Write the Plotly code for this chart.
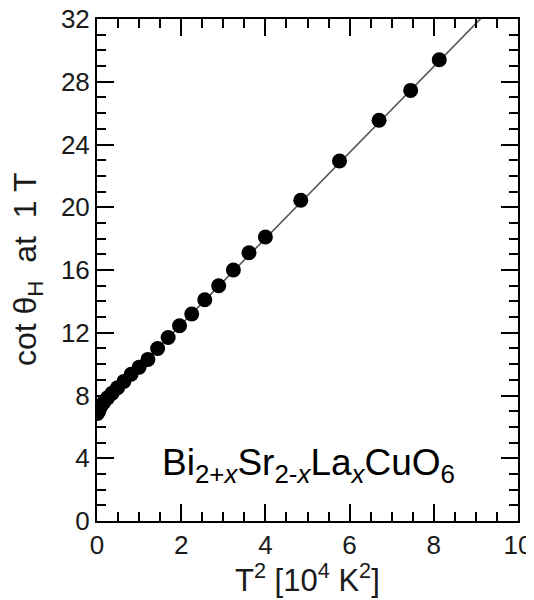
import plotly.graph_objects as go

# data
t2 = [0.01, 0.04, 0.09, 0.16, 0.25, 0.36, 0.49, 0.64, 0.81, 1.00, 1.21, 1.44, 1.69,
      1.96, 2.25, 2.56, 2.89, 3.24, 3.61, 4.00, 4.84, 5.76, 6.70, 7.45, 8.13]
cot = [6.85, 7.00, 7.30, 7.55, 7.85, 8.15, 8.50, 8.90, 9.35, 9.80, 10.30, 11.00, 11.70,
       12.45, 13.20, 14.10, 15.00, 16.00, 17.10, 18.10, 20.45, 22.95, 25.55, 27.45, 29.40]
fit_x = [0.0, 10.0]
fit_y = [7.05, 34.45]

x_ticks = [0, 2, 4, 6, 8, 10]
y_ticks = [0, 4, 8, 12, 16, 20, 24, 28, 32]

FONT = "Liberation Sans, Arial, sans-serif"
TXT = "#1a1a1a"

fig = go.Figure()
fig.add_trace(go.Scatter(x=fit_x, y=fit_y, mode="lines",
                         line=dict(color="#555555", width=1.6), showlegend=False))
fig.add_trace(go.Scatter(x=t2, y=cot, mode="markers",
                         marker=dict(color="black", size=15, line=dict(width=0)),
                         showlegend=False))

axis_common = dict(
    showgrid=False, zeroline=False, showline=True, linecolor="black", linewidth=2,
    mirror="ticks", ticks="inside", ticklen=17, tickwidth=2, tickcolor="black",
    tickfont=dict(family=FONT, size=26, color=TXT), automargin=False,
    ticklabeloverflow="allow",
)

fig.update_xaxes(range=[0, 10], tickvals=x_ticks,
                 minor=dict(dtick=0.5, ticks="inside", ticklen=9, tickwidth=2, tickcolor="black"),
                 **axis_common)
fig.update_yaxes(range=[0, 32], tickvals=y_ticks,
                 minor=dict(dtick=1, ticks="inside", ticklen=9, tickwidth=2, tickcolor="black"),
                 **axis_common)

# axis titles
fig.add_annotation(x=0.5, y=0, xref="paper", yref="paper", xanchor="center", yanchor="middle",
                   yshift=-57, showarrow=False,
                   text="T<sup>2</sup> [10<sup>4</sup> K<sup>2</sup>]",
                   font=dict(family=FONT, size=31, color=TXT))
fig.add_annotation(x=0, y=0.5, xref="paper", yref="paper", xanchor="center", yanchor="middle",
                   xshift=-70, textangle=-90, showarrow=False,
                   text="cot θ<sub>H</sub>  at  1 T",
                   font=dict(family=FONT, size=32, color=TXT))

fig.add_annotation(x=1.5, y=3.6, xref="x", yref="y", xanchor="left", yanchor="middle",
                   text="Bi<sub>2+<i>x</i></sub>Sr<sub>2-<i>x</i></sub>La<sub><i>x</i></sub>CuO<sub>6</sub>",
                   showarrow=False, font=dict(family=FONT, size=37, color="black"))

# the page body adds an 8px offset, so the figure is sized to fit the window
fig.update_layout(width=526, height=592,
                  margin=dict(l=89, r=16, t=11, b=79),
                  plot_bgcolor="white", paper_bgcolor="white")

fig.write_html("out.html")
